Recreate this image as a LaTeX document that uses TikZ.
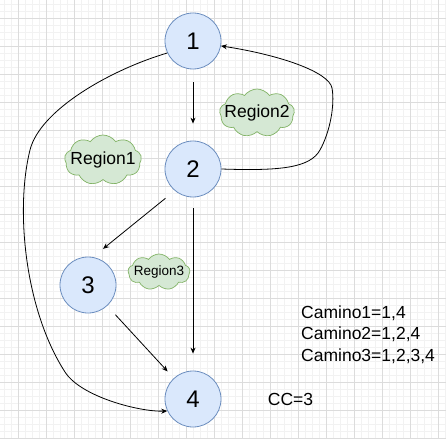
\documentclass[tikz,border=0pt]{standalone}
\usepackage{fontspec}
\setmainfont{Liberation Sans}
\usetikzlibrary{shapes.symbols,arrows.meta}
\definecolor{nodefill}{HTML}{DAE8FC}
\definecolor{nodeline}{HTML}{6C8EBF}
\definecolor{cloudfill}{HTML}{D5E8D4}
\definecolor{cloudline}{HTML}{82B366}
\definecolor{gridmajor}{HTML}{DCDCDC}
\definecolor{gridminor}{HTML}{F2F2F2}
\tikzset{
  vertex/.style={circle, draw=nodeline, fill=nodefill, line width=0.8pt, minimum size=56pt, inner sep=0pt, font=\fontsize{24}{28}\selectfont},
  cloudbox/.style={cloud, cloud puffs=9, cloud puff arc=110, cloud ignores aspect, draw=cloudline, fill=cloudfill, line width=0.7pt, inner sep=0pt},
  edge/.style={draw=black, line width=0.8pt, -{Stealth[length=6pt,width=5pt]}},
  bigtxt/.style={font=\fontsize{17.5}{21.7}\selectfont, inner sep=0pt},
}
\begin{document}
\begin{tikzpicture}[x=1pt,y=-1pt]
\useasboundingbox (0,0) rectangle (446,438);
\fill[white] (0,0) rectangle (446,438);
% grid
\foreach \g in {4,11,...,446} {
  \draw[gridminor, line width=0.5pt] (\g,0) -- (\g,438);
  \draw[gridminor, line width=0.5pt] (0,\g) -- (446,\g);
}
\foreach \g in {18,46,...,446} {
  \draw[gridmajor, line width=0.6pt] (\g,0) -- (\g,438);
  \draw[gridmajor, line width=0.6pt] (0,\g) -- (446,\g);
}
% clouds
\node[cloudbox, minimum width=75pt, minimum height=48pt] (r2) at (257,113) {};
\node[font=\fontsize{17.5}{20}\selectfont, inner sep=0pt] (t2) at (r2) {Region2};
\node[cloudbox, minimum width=77pt, minimum height=50pt] (r1) at (103,160) {};
\node[font=\fontsize{17.5}{20}\selectfont, inner sep=0pt] (t1) at (r1) {Region1};
\node[cloudbox, minimum width=62pt, minimum height=36pt] (r3) at (159,272) {};
\node[font=\fontsize{13.5}{16}\selectfont, inner sep=0pt] (t3) at (r3) {Region3};
% vertices
\node[vertex] (n1) at (193,41) {1};
\node[vertex] (n2) at (193,169) {2};
\node[vertex] (n3) at (88,285) {3};
\node[vertex] (n4) at (193,399) {4};
% edges
\draw[edge, shorten <=13pt, shorten >=17pt] (n1) -- (n2);
\draw[edge, shorten <=11pt, shorten >=17pt] (n2) -- (n4);
\draw[edge, shorten <=12pt, shorten >=13pt] (n2.230) -- (n3.80);
\draw[edge, shorten <=12pt, shorten >=9pt] (n3) -- (n4);
\draw[edge] (n1.205) .. controls (110,70) and (40,110) .. (30,150)
  .. controls (15,210) and (25,310) .. (65,372)
  .. controls (81,397) and (140,412) .. (n4.205);
\draw[edge] (n2.east) .. controls (280,171) and (310,168) .. (320,150)
  .. controls (330,132) and (335,105) .. (332,88)
  .. controls (329,72) and (280,55) .. (n1.-10);
% texts
\node[bigtxt, align=left, anchor=west] (caminos) at (301,334.5) {Camino1=1,4\\Camino2=1,2,4\\Camino3=1,2,3,4};
\node[bigtxt] (cc) at (290.5,399) {CC=3};
\end{tikzpicture}
\end{document}
